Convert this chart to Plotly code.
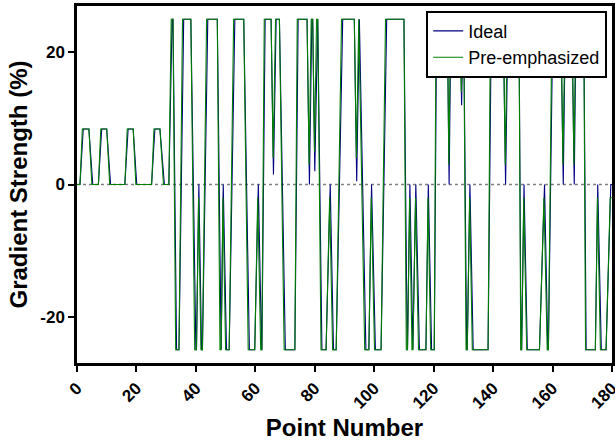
import plotly.graph_objects as go

# ---------------- data ----------------
ideal_x = [0, 1.0, 2.1, 4.0, 5.3, 7.2, 8.3, 10.0, 11.3, 16.1, 17.2, 18.9, 20.1,
           25.1, 26.2, 27.9, 29.4, 30.9, 32.0, 32.3, 33.5, 34.3, 35.9, 38.3, 40.0,
           40.2, 41.0, 41.9, 42.2, 44.0, 47.2, 48.3, 48.5, 49.2, 50.3, 51.2, 53.1,
           56.1, 58.0, 59.8, 61.0, 62.1, 62.2, 63.3, 65.3, 66.1, 67.0, 68.1, 70.1,
           73.3, 74.4, 77.4, 78.2, 79.0, 79.3, 80.0, 80.8, 81.0, 82.4, 83.8, 85.2,
           86.3, 87.2, 89.4, 93.3, 94.1, 95.0, 97.2, 98.2, 99.1, 100.4, 102.3, 104.2,
           110.0, 111.1, 111.2, 112.0, 112.9, 113.0, 114.0, 115.2, 117.4, 118.2, 119.3,
           120.2, 121.0, 124.6, 125.2, 125.8, 128.9, 129.4, 129.9, 130.1, 131.1, 131.3,
           132.2, 133.3, 138.3, 139.4, 143.4, 144.2, 145.0, 148.7, 149.4, 149.6, 150.4,
           151.5, 155.6, 157.3, 158.4, 158.6, 160.1, 162.8, 163.6, 164.3, 166.5, 167.3,
           167.9, 170.5, 171.3, 174.4, 175.2, 176.4, 178.0, 179.6, 180.0]
ideal_y = [0, 0, 8.4, 8.4, 0, 0, 8.4, 8.4, 0, 0, 8.4, 8.4, 0,
           0, 8.4, 8.4, 0, 0, 25, 25, -25, -25, 25, 25, -25,
           -25, 0, -25, -25, 25, 25, -25, -25, 0, -25, -25, 25,
           25, -25, -25, 0, -25, -25, 25, 25, 1.5, 25, 25, -25,
           -25, 25, 25, 0, 25, 25, 2, 25, 25, -25, -25, 0,
           -25, -25, 25, 25, 0.5, 25, -25, -25, 0, -25, -25, 25,
           25, -25, -25, 0, -25, -25, 0, -25, -25, 0, -25,
           -25, 25, 25, 0, 25, 25, 12, 25, 25, -25, -25,
           0, -25, -25, 25, 25, 0, 25, 25, -25, -25, 0,
           -25, -25, 0, -25, -25, 25, 25, 0, 25, 25, 0,
           25, 25, -25, -25, 0, -25, -25, 0, 0]

pre_x = [0, 1.0, 1.8, 4.0, 5.0, 7.2, 8.0, 10.0, 11.0, 16.1, 16.9, 18.9, 19.8,
         25.1, 25.9, 27.9, 29.1, 30.9, 31.7, 32.3, 33.2, 34.3, 35.5, 38.3, 39.6,
         40.2, 40.9, 41.7, 42.2, 43.6, 47.2, 48.1, 48.5, 49.1, 50.0, 51.2, 52.7,
         56.1, 57.6, 59.8, 60.8, 61.8, 62.2, 63.0, 65.3, 66.0, 66.8, 68.1, 69.7,
         73.3, 74.1, 77.4, 78.1, 78.8, 79.3, 79.9, 80.6, 81.0, 82.1, 83.8, 85.0,
         86.0, 87.2, 89.0, 93.3, 94.0, 94.8, 96.8, 98.2, 99.0, 100.1, 102.3, 103.8,
         110.0, 110.8, 111.2, 111.9, 112.7, 113.0, 113.9, 114.9, 117.4, 118.1, 119.0,
         120.2, 120.8, 124.6, 125.1, 125.7, 128.9, 129.3, 129.8, 130.1, 130.9, 131.3,
         132.1, 133.0, 138.3, 139.1, 143.4, 144.1, 144.8, 148.7, 149.3, 149.6, 150.3,
         151.3, 155.6, 157.1, 158.2, 158.6, 159.8, 162.8, 163.5, 164.2, 166.5, 167.2,
         167.8, 170.5, 171.1, 174.4, 175.1, 176.1, 178.0, 179.4, 180.0]
pre_y = [0, 0, 8.4, 8.4, 0, 0, 8.4, 8.4, 0, 0, 8.4, 8.4, 0,
         0, 8.4, 8.4, 0, 0, 25, 25, -25, -25, 25, 25, -25,
         -25, -2, -25, -25, 25, 25, -25, -25, -2, -25, -25, 25,
         25, -25, -25, -2, -25, -25, 25, 25, 4, 25, 25, -25,
         -25, 25, 25, 3, 25, 25, 5, 25, 25, -25, -25, -2,
         -25, -25, 25, 25, 4, 25, -25, -25, -2, -25, -25, 25,
         25, -25, -25, -2, -25, -25, -2, -25, -25, -2, -25,
         -25, 25, 25, 3, 25, 25, 14, 25, 25, -25, -25,
         -2, -25, -25, 25, 25, 3, 25, 25, -25, -25, -2,
         -25, -25, -2, -25, -25, 25, 25, 3, 25, 25, 3,
         25, 25, -25, -25, -2, -25, -25, -2, -2]

x_tick_vals = [0, 20, 40, 60, 80, 100, 120, 140, 160, 180]
y_tick_vals = [-20, 0, 20]
y_tick_text = ["-20", "0", "20"]

series_names = ["Ideal", "Pre-emphasized"]

# ---------------- figure ----------------
FONT = "Liberation Sans, Arial, sans-serif"

fig = go.Figure()
fig.add_trace(go.Scatter(x=ideal_x, y=ideal_y, mode="lines", name=series_names[0],
                         line=dict(color="#000080", width=1.1)))
fig.add_trace(go.Scatter(x=pre_x, y=pre_y, mode="lines", name=series_names[1],
                         line=dict(color="#008000", width=1.1)))

fig.add_shape(type="line", xref="paper", x0=0, x1=1, yref="y", y0=0, y1=0,
              line=dict(color="#808080", width=1.5, dash="dot"), layer="below")

fig.update_layout(
    width=615, height=441,
    margin=dict(l=77, r=3, t=6, b=78),
    paper_bgcolor="white", plot_bgcolor="white",
    showlegend=True,
    legend=dict(x=0.991, xanchor="right", y=0.987, yanchor="top",
                bgcolor="white", bordercolor="black", borderwidth=2,
                font=dict(family=FONT, size=18, color="black"),
                tracegroupgap=0, itemwidth=30),
    xaxis=dict(range=[0, 180], tickvals=x_tick_vals, tickangle=-45,
               automargin=False,
               ticks="outside", ticklen=6, tickwidth=2, tickcolor="black",
               ticklabeloverflow="allow",
               showline=True, linewidth=2.5, linecolor="black", mirror=True,
               showgrid=False, zeroline=False,
               tickfont=dict(family=FONT, size=17, color="black", weight="bold"),
               title=dict(text="Point Number", standoff=8,
                          font=dict(family=FONT, size=24, color="black", weight="bold"))),
    yaxis=dict(range=[-27, 27], tickvals=y_tick_vals, ticktext=y_tick_text,
               automargin=False,
               ticks="outside", ticklen=6, tickwidth=2, tickcolor="black",
               showline=True, linewidth=2.5, linecolor="black", mirror=True,
               showgrid=False, zeroline=False,
               tickfont=dict(family=FONT, size=17, color="black", weight="bold"),
               title=dict(text="Gradient Strength (%)", standoff=6,
                          font=dict(family=FONT, size=24, color="black", weight="bold"))),
)

fig.write_html("out.html", config={"displayModeBar": False},
               post_script="document.body.style.margin='0';document.body.style.overflow='hidden';")
